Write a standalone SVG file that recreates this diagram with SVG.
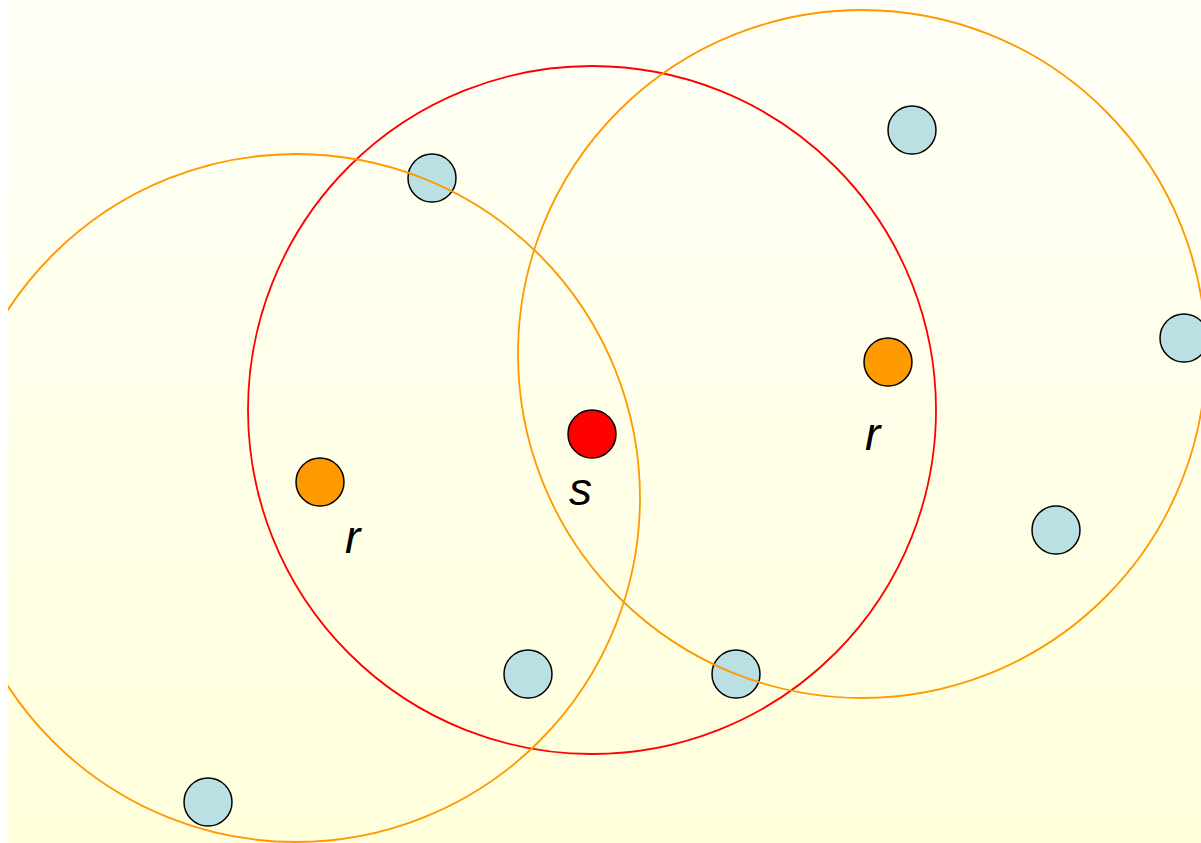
<svg xmlns="http://www.w3.org/2000/svg" width="1201" height="843" viewBox="0 0 1201 843">
<defs>
<linearGradient id="bg" x1="0" y1="0" x2="0" y2="1">
<stop offset="0" stop-color="#FFFFF7"/>
<stop offset="1" stop-color="#FFFFDC"/>
</linearGradient>
<clipPath id="panel"><rect x="8" y="0" width="1193" height="843"/></clipPath>
<style>
.range{fill:none;stroke-width:1.8}
.node{stroke:#000;stroke-width:1.5}
.blue{fill:#BBE0E3}
.orange{fill:#FF9900}
.red{fill:#FF0000}
.lbl{font-family:"Liberation Sans",Arial,sans-serif;font-style:italic;font-size:46px;fill:#000}
</style>
</defs>
<rect x="0" y="0" width="1201" height="843" fill="#FFFFFF"/>
<rect x="8" y="0" width="1193" height="843" fill="url(#bg)"/>
<g id="connectors"></g>
<g id="redRange" clip-path="url(#panel)">
<circle cx="592" cy="410" r="344" class="range" stroke="#FF0000" stroke-width="1.6"/>
</g>
<g id="n1"><circle cx="432" cy="178" r="24" class="node blue"/></g>
<g id="n2"><circle cx="912" cy="130" r="24" class="node blue"/></g>
<g id="n3"><circle cx="1184" cy="338" r="24" class="node blue"/></g>
<g id="n4"><circle cx="1056" cy="530" r="24" class="node blue"/></g>
<g id="n5"><circle cx="528" cy="674" r="24" class="node blue"/></g>
<g id="n6"><circle cx="736" cy="674" r="24" class="node blue"/></g>
<g id="n7"><circle cx="208" cy="802" r="24" class="node blue"/></g>
<g id="rLeft"><circle cx="320" cy="482" r="24" class="node orange"/><text x="345" y="553" class="lbl">r</text></g>
<g id="rRight"><circle cx="888" cy="362" r="24" class="node orange"/><text x="865" y="450" class="lbl">r</text></g>
<g id="s"><circle cx="592" cy="434" r="24" class="node red"/><text x="569" y="505" class="lbl">s</text></g>
<g id="orangeRanges" clip-path="url(#panel)">
<circle cx="296" cy="498" r="344" class="range" stroke="#FF9900"/>
<circle cx="862" cy="354" r="344" class="range" stroke="#FF9900"/>
</g>
</svg>
